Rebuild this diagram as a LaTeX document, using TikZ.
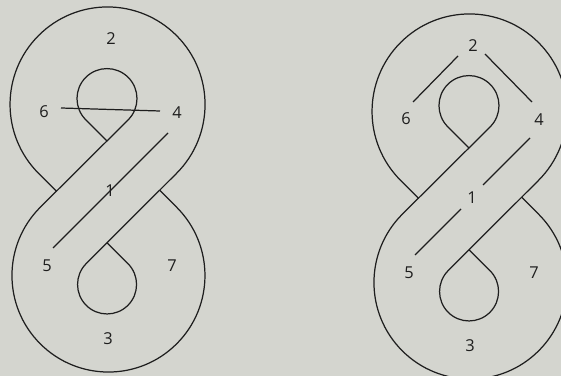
\documentclass[tikz,border=0pt]{standalone}
\usepackage{fontspec}
\setsansfont{Open Sans}

\begin{document}
\begin{tikzpicture}[x=0.03cm,y=-0.03cm,font=\sffamily\fontsize{14}{16}\selectfont]
  \definecolor{paper}{RGB}{212,213,207}
  \definecolor{ink}{RGB}{30,30,30}
  \tikzset{strand/.style={ink, line width=1.05pt, line join=round}}

  \fill[paper] (0,0) rectangle (561,376);
  \clip (0,0) rectangle (561,376);

  \foreach \dx/\dy/\fig in {0/0/L, 362/7/R} {
    \begin{scope}[shift={(\dx,\dy)}]
      % upper lobe, running into the lower teardrop
      \draw[strand] (56.6,191.4) -- (38.6,173.4)
        arc[start angle=135, end angle=405, radius=97.5] -- (86.2,263.6)
        arc[start angle=225, end angle=-45, radius=29.5] -- (107,242.8);
      % lower lobe, running into the upper teardrop
      \draw[strand] (159.6,190.2) -- (176.7,207.3)
        arc[start angle=-45, end angle=225, radius=96.5] -- (128.2,119.8)
        arc[start angle=45, end angle=-225, radius=30] -- (107,141);

      \foreach \lbl/\x/\y in {2/111/39, 6/44/112, 4/177/113, 1/110/191,
                              5/47/266, 7/172/266, 3/108/339} {
        \node[ink] (n\lbl\fig) at (\x,\y) {\lbl};
      }
    \end{scope}
  }

  % left figure
  \draw[strand] (61,108) -- (160,111);
  \draw[strand] (168,133) -- (53,248);

  % right figure
  \begin{scope}[shift={(362,7)}]
    \draw[strand] (168,131) -- (121,178);
    \draw[strand] (99,202) -- (53,248);
    \draw[strand] (96,49) -- (51,95);
    \draw[strand] (123,47) -- (170,95);
  \end{scope}
\end{tikzpicture}
\end{document}
